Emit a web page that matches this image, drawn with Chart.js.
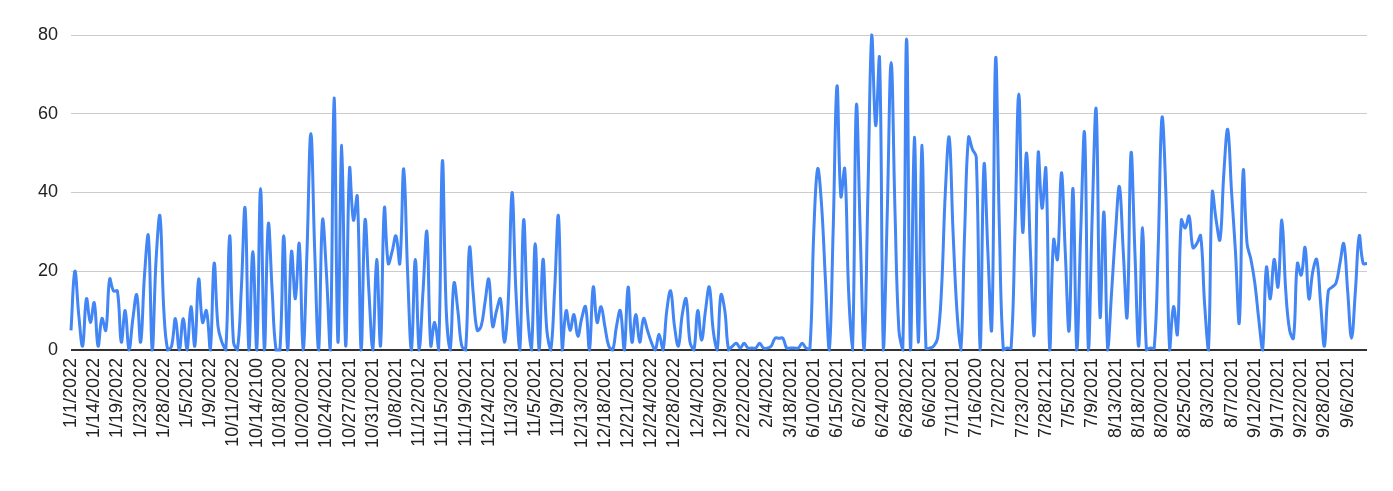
<!DOCTYPE html>
<html>
<head>
<meta charset="utf-8">
<script src="https://cdn.jsdelivr.net/npm/chart.js@4.4.1/dist/chart.umd.min.js"></script>
<style>
  body { margin: 0; background: #fff; }
  canvas { display: block; }
</style>
</head>
<body>
<canvas id="grafik" width="1393" height="491"></canvas>
<script>
// ===== DATA =====
const tickLabels = [
  "1/1/2022","1/14/2022","1/19/2022","1/23/2022","1/28/2022","1/5/2021","1/9/2022",
  "10/11/2022","10/14/2100","10/18/2020","10/20/2022","10/24/2021","10/27/2021","10/31/2021",
  "10/8/2021","11/12/2012","11/15/2021","11/19/2021","11/24/2021","11/3/2021","11/5/2021",
  "11/9/2021","12/13/2021","12/18/2021","12/21/2021","12/24/2022","12/28/2022","12/4/2021",
  "12/9/2021","2/22/2022","2/4/2022","3/18/2021","6/10/2021","6/15/2021","6/2/2021",
  "6/24/2021","6/28/2022","6/6/2021","7/11/2021","7/16/2020","7/2/2022","7/23/2021",
  "7/28/2121","7/5/2021","7/9/2021","8/13/2021","8/18/2021","8/20/2021","8/25/2021",
  "8/3/2021","8/7/2021","9/12/2021","9/17/2021","9/22/2021","9/28/2021","9/6/2021"
];
const labelEvery = 6;   // satu label tiap 6 titik

const nilai = [
  5,20,9,1,13,7,12,1,8,5,18,15,15,2,10,0,8,14,2,19,
  29,0,23,34,10,0,1,8,0,8,0,11,1,18,7,10,0,22,6,2,
  0,29,2,0,15,36,0,25,0,41,0,32,15,0,0,29,0,25,13,27,
  0,25,55,25,0,33,20,0,64,2,52,1,46,33,39,0,33,15,0,23,
  1,36,22,25,29,22,46,20,0,23,0,15,30,1,7,0,48,10,0,17,
  10,1,0,26,14,5,6,12,18,6,10,13,2,12,40,15,0,33,10,0,
  27,0,23,5,0,15,34,0,10,5,9,3.5,8,11,0,16,7,11,6,1,
  0,6,10,0,16,2,9,2,8,5,2,0,4,0,10,15,6,1,9,13,
  2,0,10,2.5,10,16,5,0,14,10,0,1,1.7,0.5,1.7,0.5,0.5,0.5,1.7,0.5,
  0.5,1,3,3,3,0.5,0.5,0.5,0.5,1.7,0.5,0.3,30,46,37,18,0,30,67,39,
  46,15,0,62,30,0,40,80,57,74,0,35,73,35,5,0,79,0,54,2,
  52,0.5,0.5,1,3,15,40,54,30,10,0,30,54,51,49,0,47,25,5.5,74,
  30,0,0.5,0.5,30,65,30,50,25,4,50,36,46,0,28,23,45,25,5,41,
  0,30,55,0,35,61,8.5,35,0,15,30,41.5,25,8.5,50,25,1,31,0,0.5,
  0.5,25,59,40,0,11,4,33,31,34,26,27,29,12,0,40,33,28,45,56,
  40,25,7,45.5,27,23,17,8,0,21,13,23,16,33,15,5,3,22,19,26,
  13,20,23,12,1,15,16,17,22,27,15,3,15,29,22,22
];

const yTicks = [0, 20, 40, 60, 80];

// ===== CHART =====
const titik = nilai.map((v, i) => ({x: i, y: v}));
const fontTeks = {family: "'Liberation Sans', Arial, sans-serif", size: 18};

new Chart(document.getElementById("grafik"), {
  type: "line",
  data: {
    datasets: [{
      data: titik,
      borderColor: "#4285f4",
      borderWidth: 3,
      pointRadius: 0,
      tension: 0.4,
      clip: false
    }]
  },
  options: {
    responsive: false,
    animation: false,
    devicePixelRatio: 1,
    layout: {padding: {top: 35, right: 26, left: 0, bottom: 0}},
    plugins: {legend: {display: false}, tooltip: {enabled: false}},
    scales: {
      x: {
        type: "linear",
        min: 0,
        max: nilai.length - 1,
        grid: {display: false, drawTicks: false},
        border: {display: false},
        afterBuildTicks: s => { s.ticks = tickLabels.map((_, k) => ({value: k * labelEvery})); },
        afterFit: s => { s.height = 141; },
        ticks: {
          autoSkip: false,
          minRotation: 90,
          maxRotation: 90,
          padding: 8,
          color: "#222",
          font: fontTeks,
          callback: v => tickLabels[v / labelEvery] || ""
        }
      },
      y: {
        min: yTicks[0],
        max: yTicks[yTicks.length - 1],
        border: {display: false},
        grid: {
          drawTicks: false,
          color: c => c.tick.value === 0 ? "#333" : "#cccccc",
          lineWidth: c => c.tick.value === 0 ? 2 : 1
        },
        afterBuildTicks: s => { s.ticks = yTicks.map(v => ({value: v})); },
        afterFit: s => { s.width = 71; },
        ticks: {padding: 13, color: "#222", font: fontTeks}
      }
    }
  }
});
</script>
</body>
</html>
